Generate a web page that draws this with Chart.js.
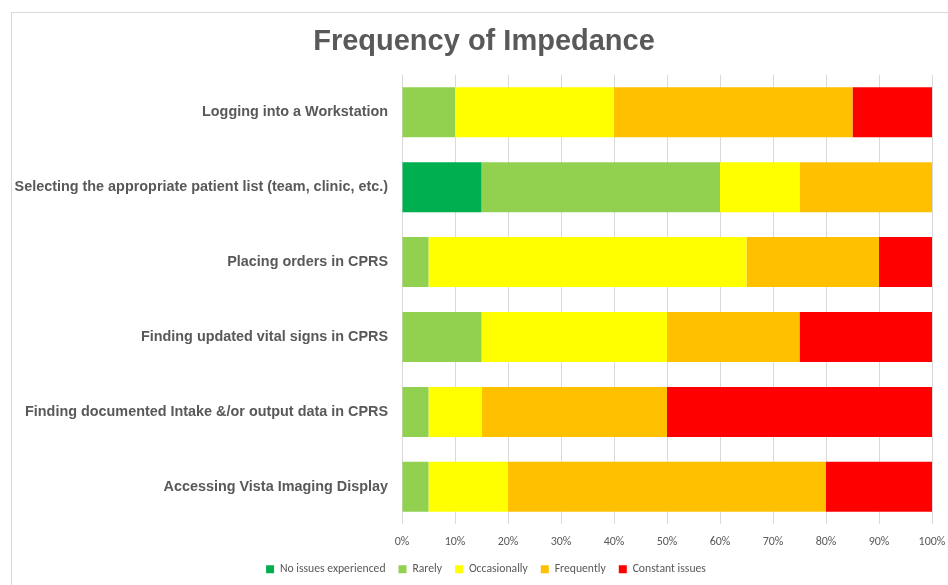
<!DOCTYPE html>
<html>
<head>
<meta charset="utf-8">
<script src="https://cdn.jsdelivr.net/npm/chart.js@4"></script>
<style>
  html, body { margin:0; padding:0; background:#fff; }
  #wrap { position:relative; width:948px; height:585px; overflow:hidden; }
  #frame { position:absolute; left:11px; top:12px; right:-2px; bottom:-2px;
           border-top:1px solid #d9d9d9; border-left:1px solid #d9d9d9; }
  canvas { position:absolute; left:0; top:0; }
</style>
</head>
<body>
<div id="wrap">
  <div id="frame"></div>
  <canvas id="impChart" width="948" height="585"></canvas>
</div>
<script>
const categories = [
  'Logging into a Workstation',
  'Selecting the appropriate patient list (team, clinic, etc.)',
  'Placing orders in CPRS',
  'Finding updated vital signs in CPRS',
  'Finding documented Intake &/or output data in CPRS',
  'Accessing Vista Imaging Display'
];
const noIssues   = [0, 15, 0, 0, 0, 0];
const rarely     = [10, 45, 5, 15, 5, 5];
const occasional = [30, 15, 60, 35, 10, 15];
const frequently = [45, 25, 25, 25, 35, 60];
const constant   = [15, 0, 10, 25, 50, 20];
const xTicks = [0, 10, 20, 30, 40, 50, 60, 70, 80, 90, 100];

const grey = '#595959';
const mk = (label, data, color) => ({
  label, data, backgroundColor: color, borderWidth: 0,
  barPercentage: 0.667, categoryPercentage: 1
});

// excel centres title and legend a bit right of the canvas middle
const shiftBlocks = {
  id: 'shiftBlocks',
  afterLayout(chart) {
    chart.titleBlock.left += 18; chart.titleBlock.right += 18;
    chart.legend.left += 20; chart.legend.right += 20;
  }
};

new Chart(document.getElementById('impChart'), {
  type: 'bar',
  data: {
    labels: categories,
    datasets: [
      mk('No issues experienced', noIssues, '#00B050'),
      mk('Rarely', rarely, '#92D050'),
      mk('Occasionally', occasional, '#FFFF00'),
      mk('Frequently', frequently, '#FFC000'),
      mk('Constant issues', constant, '#FF0000')
    ]
  },
  plugins: [shiftBlocks],
  options: {
    responsive: false,
    animation: false,
    indexAxis: 'y',
    layout: { padding: { left: 0, right: 16, top: 0, bottom: 0 } },
    scales: {
      x: {
        stacked: true, min: 0, max: 100,
        afterBuildTicks: s => { s.ticks = xTicks.map(v => ({value: v})); },
        afterFit: s => { s.height = 26; s.paddingLeft = 0; s.paddingRight = 0; },
        ticks: { color: grey, font: { family: 'Carlito, Calibri, "Liberation Sans", sans-serif', size: 12 },
                 padding: 10, callback: v => v + '%' },
        grid: { color: '#d9d9d9', drawTicks: false },
        border: { display: false }
      },
      y: {
        stacked: true,
        afterFit: s => { s.width = 402; },
        ticks: { color: grey, padding: 14,
                 font: { family: '"Liberation Sans Narrow", "Arial Narrow", "Liberation Sans", sans-serif', size: 14.4, weight: 'bold' } },
        grid: { display: false, drawTicks: false, tickLength: 0 },
        border: { display: false }
      }
    },
    plugins: {
      title: {
        display: true, text: 'Frequency of Impedance', color: grey,
        font: { family: '"Liberation Sans", Arial, sans-serif', size: 29, weight: 'bold' },
        padding: { top: 25, bottom: 15 }
      },
      legend: {
        position: 'bottom',
        maxHeight: 38,
        labels: { color: grey, boxWidth: 8, boxHeight: 8, padding: 13,
                  font: { family: 'Carlito, Calibri, "Liberation Sans", sans-serif', size: 11.7 } }
      },
      tooltip: { enabled: false }
    }
  }
});
</script>
</body>
</html>
